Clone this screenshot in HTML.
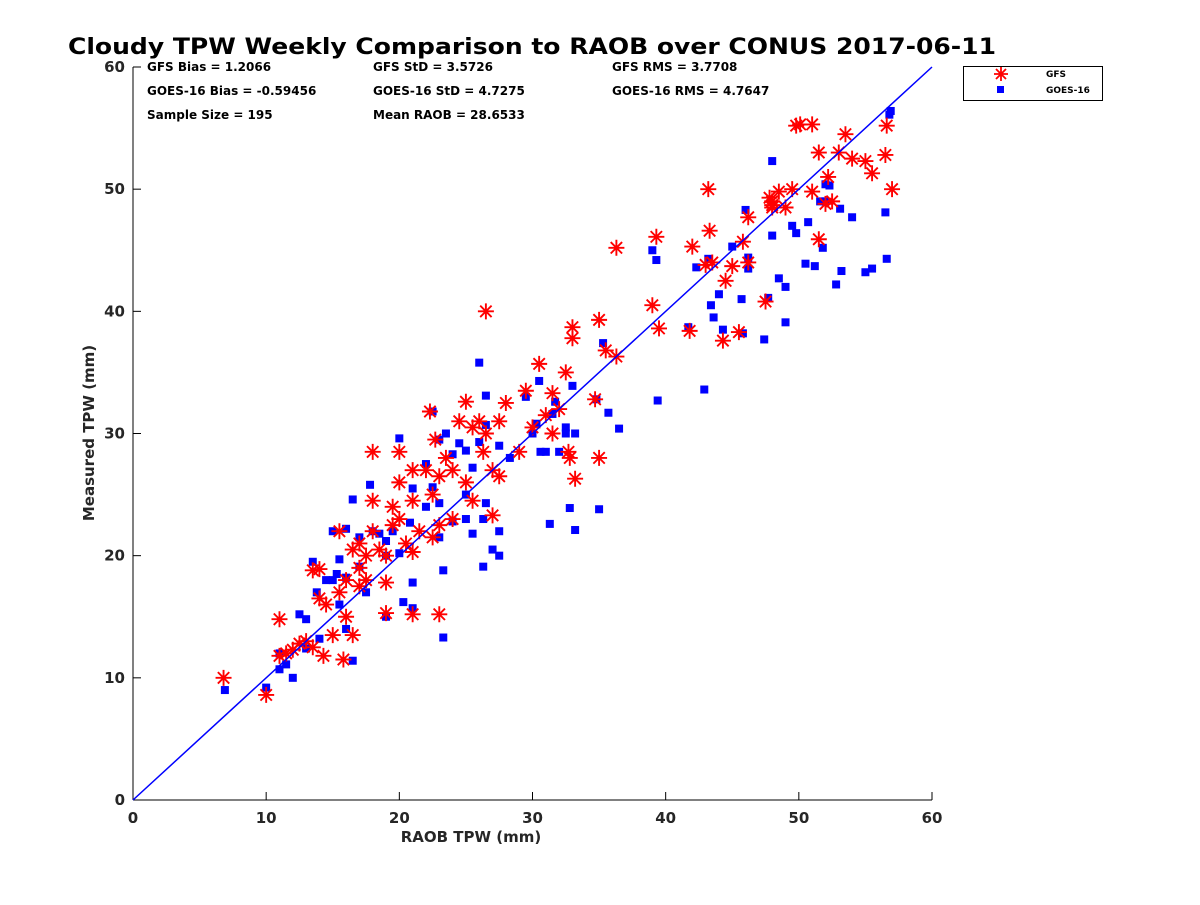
<!DOCTYPE html>
<html><head><meta charset="utf-8"><style>
body{margin:0;background:#fff}
svg text{font-family:"DejaVu Sans","Liberation Sans",sans-serif;font-weight:bold}
</style></head><body>
<svg id="c" width="1200" height="900" xmlns="http://www.w3.org/2000/svg">
<text x="532" y="54" font-size="22" text-anchor="middle" textLength="928" lengthAdjust="spacingAndGlyphs">Cloudy TPW Weekly Comparison to RAOB over CONUS 2017-06-11</text>
<g font-size="12">
<text x="147" y="71">GFS Bias = 1.2066</text>
<text x="373" y="71">GFS StD = 3.5726</text>
<text x="612" y="71">GFS RMS = 3.7708</text>
<text x="147" y="95">GOES-16 Bias = -0.59456</text>
<text x="373" y="95">GOES-16 StD = 4.7275</text>
<text x="612" y="95">GOES-16 RMS = 4.7647</text>
<text x="147" y="119">Sample Size = 195</text>
<text x="373" y="119">Mean RAOB = 28.6533</text>
</g>
<g id="axes"></g>
<g id="marks"></g>
<g>
<rect x="963.5" y="66.5" width="139" height="34" fill="#fff" stroke="#000" stroke-width="1"/>
<g stroke="#f00" stroke-width="1.8"><path d="M1001 67v14M994 74h14M996 69l10 10M1006 69l-10 10"/></g>
<text x="1046" y="77" font-size="9">GFS</text>
<rect x="997" y="86" width="7" height="7" fill="#00f"/>
<text x="1046" y="93" font-size="9">GOES-16</text>
</g>
<text x="471" y="842" font-size="15" text-anchor="middle" fill="#262626">RAOB TPW (mm)</text>
<text x="0" y="0" font-size="15" text-anchor="middle" fill="#262626" transform="translate(94,433) rotate(-90)">Measured TPW (mm)</text>
</svg>
<script>
const xTicks=[0,10,20,30,40,50,60];
const yTicks=[0,10,20,30,40,50,60];
const gfsX=[6.8,10,11,11,11.5,12,12.5,13,13.5,13.5,14,14,14.3,14.5,15,15.5,15.5,15.8,16,16,16.5,16.5,17,17,17,17.5,17.5,18,18,18,18.5,19,19,19,19.5,19.5,20,20,20,20.5,21,21,21,21,21.5,22,22.3,22.5,22.7,22.5,23,23,23,23.5,24,24,24.5,25,25,25.5,25.5,26,26.3,26.5,26.5,27,27,27.5,27.5,28,29,29.5,30.5,30,31,31.5,31.5,32,32.5,33,33,32.7,32.8,33.2,34.7,35,35,35.5,36.3,36.3,39,39.3,39.5,41.8,42,43,43.3,43.2,43.5,44.3,44.5,45,45.5,45.8,46.2,46.2,47.5,48,48,48.5,49,49.5,49.8,50.1,51,51,51.5,51.5,52,52.2,53,53.5,54,55,55.5,56.5,56.6,57,48,47.8,52.5];
const gfsY=[10,8.6,14.8,11.8,12,12.3,12.8,13,12.5,18.8,18.9,16.5,11.8,16,13.5,22,17,11.5,15,18,13.5,20.5,21,17.5,19,20,18,28.5,24.5,22,20.5,15.3,17.8,20,24,22.5,26,23,28.5,21,27,24.5,20.3,15.2,22,27,31.8,25,29.5,21.5,22.5,15.2,26.5,28,27,23,31,32.6,26,24.5,30.5,31,28.5,40,30,27,23.3,26.5,31,32.5,28.5,33.5,35.7,30.5,31.5,30,33.3,32,35,37.8,38.7,28.5,28,26.3,32.8,39.3,28,36.8,45.2,36.3,40.5,46.1,38.6,38.4,45.3,43.8,46.6,50,44,37.6,42.5,43.7,38.3,45.7,47.7,44,40.8,48.7,49,49.8,48.5,50,55.2,55.3,55.3,49.8,53,45.9,48.8,51,53,54.5,52.5,52.3,51.3,52.8,55.2,50,48.5,49.3,49];
const goesX=[6.9,10,11,11,11.5,12,12.5,13,13,13.5,13.8,14,14.5,15,15,15.5,15.3,15.5,16,16,16,16.5,16.5,17,17,17.5,17.8,18,18.5,19,19,19,19.5,20,20,20.3,20.8,21,21,21,22,22,22.5,22.5,23,23,23,23.3,23.3,23.5,24,24,24.5,25,25,25,25.5,25.5,26,26,26.3,26.3,26.5,26.5,26.5,27,27.5,27.5,27.5,28.3,29.5,30,30.3,30.5,30.6,31,31.3,31.5,31.7,32,32.5,32.5,32.8,33,33.2,33.2,34.8,35,35.3,35.7,36.5,39,39.3,39.4,41.7,42.3,42.9,43.2,43.4,43.6,44,44.3,45,45.7,45.8,46,46.2,46.2,47.4,47.7,48,48,48.5,49,49,49.5,49.8,50.5,50.7,51.2,51.6,51.8,52,52,52.3,52.8,53.1,53.2,54,55,55.5,56.5,56.6,56.8,56.9];
const goesY=[9,9.2,12,10.7,11.1,10,15.2,12.4,14.8,19.5,17,13.2,18,22,18,16,18.5,19.7,22.2,18.2,14,11.4,24.6,21.5,19.1,17,25.8,22,21.8,21.2,15,20,22,29.6,20.2,16.2,22.7,25.5,17.8,15.7,27.5,24,31.8,25.6,29.5,24.3,21.5,13.3,18.8,30,28.3,22.8,29.2,28.6,23,25,27.2,21.8,35.8,29.3,23,19.1,33.1,24.3,30.7,20.5,29,22,20,28,33,30,30.8,34.3,28.5,28.5,22.6,31.6,32.6,28.5,30,30.5,23.9,33.9,30,22.1,32.8,23.8,37.4,31.7,30.4,45,44.2,32.7,38.7,43.6,33.6,44.3,40.5,39.5,41.4,38.5,45.3,41,38.2,48.3,43.5,44.4,37.7,41.1,46.2,52.3,42.7,39.1,42,47,46.4,43.9,47.3,43.7,49,45.2,49,50.4,50.3,42.2,48.4,43.3,47.7,43.2,43.5,48.1,44.3,56.1,56.4];
const NS='http://www.w3.org/2000/svg';
const X0=133,X1=932,Y0=800,Y1=67;
const sx=v=>X0+(v-0)/(60-0)*(X1-X0);
const sy=v=>Y0-(v-0)/(60-0)*(Y0-Y1);
function mk(t,a,p){const e=document.createElementNS(NS,t);for(const k in a)e.setAttribute(k,a[k]);p.appendChild(e);return e;}
const ax=document.getElementById('axes'),mg=document.getElementById('marks');
const xl=mk('line',{x1:X0,y1:Y0,x2:X1,y2:Y0,stroke:'#000'},ax);


const yl=mk('line',{x1:X0,y1:Y0,x2:X0,y2:Y1,stroke:'#000'},ax);


xTicks.forEach(v=>{const x=sx(v);mk('line',{x1:x,y1:Y0,x2:x,y2:Y0-8,stroke:'#000'},ax);
const t=mk('text',{x:x,y:Y0+23,'font-size':15,'text-anchor':'middle',fill:'#262626'},ax);t.textContent=v;

});
yTicks.forEach(v=>{const y=sy(v);mk('line',{x1:X0,y1:y,x2:X0+8,y2:y,stroke:'#000'},ax);
const t=mk('text',{x:X0-8,y:y+5,'font-size':15,'text-anchor':'end',fill:'#262626'},ax);t.textContent=v;

});
const g1=mk('g',{},mg);


goesX.forEach((v,i)=>{const r=mk('rect',{x:sx(v)-4,y:sy(goesY[i])-4,width:8,height:8,fill:'#00f'},g1);

});
const g2=mk('g',{stroke:'#f00','stroke-width':1.9},mg);


gfsX.forEach((v,i)=>{const x=sx(v),y=sy(gfsY[i]),r=8,d=5.7;
const p=mk('path',{d:`M${x} ${y-r}V${y+r}M${x-r} ${y}H${x+r}M${x-d} ${y-d}L${x+d} ${y+d}M${x+d} ${y-d}L${x-d} ${y+d}`},g2);

});
const l=mk('line',{x1:sx(0),y1:sy(0),x2:sx(60),y2:sy(60),stroke:'#00f','stroke-width':1.5},mg);


</script>
</body></html>
